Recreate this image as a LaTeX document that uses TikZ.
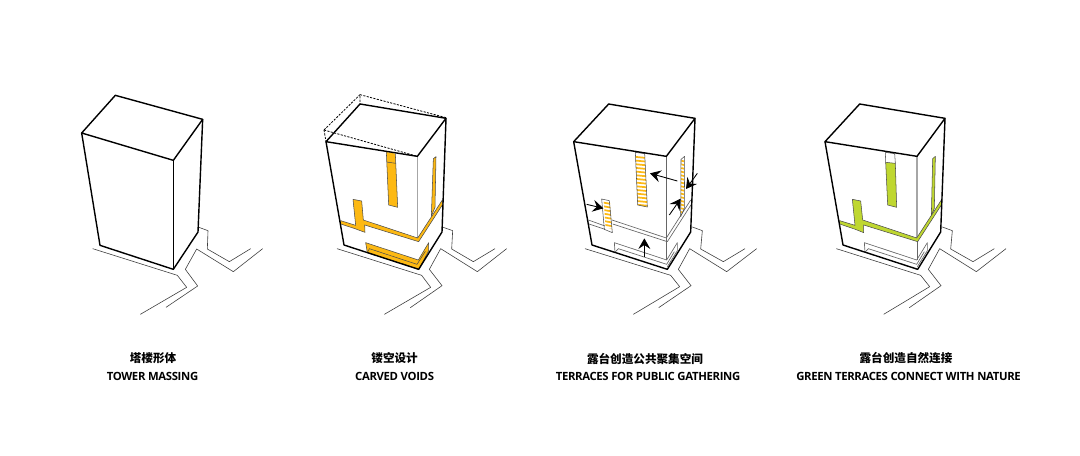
\documentclass[tikz,border=0pt]{standalone}
\usepackage{fontspec}
\setmainfont{Open Sans}[LetterSpace=-3]
\newfontfamily\cjkfont{Noto Sans CJK SC}
\usetikzlibrary{arrows.meta}
\definecolor{voidorange}{HTML}{FDB913}
\definecolor{terracegreen}{HTML}{BFD730}
\tikzset{
  panel/.style={x=.25pt,y=-.25pt,line join=round},
  mass/.style={draw=black,line width=1.05pt},
  ground/.style={draw=black!75,line width=.45pt},
  slot/.style={draw=black!70,line width=.4pt},
  innerline/.style={draw=black!60,line width=.5pt},
  corner/.style={draw=black!35,line width=1pt},
  phantom/.style={draw=black,line width=.6pt,dash pattern=on 1.6pt off 1pt},
  flow/.style={draw=black,line width=.65pt,-{Stealth[length=8pt,width=9pt,inset=3pt]}},
  hatch/.style={draw=voidorange,line width=1.3pt},
  zh/.style={font=\cjkfont\bfseries\fontsize{8.7}{10}\selectfont,inner sep=0pt,anchor=center},
  en/.style={font=\bfseries\fontsize{8.5}{10}\selectfont,inner sep=0pt,anchor=center},
}
\begin{document}
\begin{tikzpicture}[x=.75pt,y=-.75pt]
\useasboundingbox (0,0) rectangle (1080,456);
% ---------- panel 1
\begin{scope}[shift={(60,80)},panel]
\draw[ground] (98,506)--(352,586)--(380,622)--(241,703);
\draw[ground] (318,682)--(413,618)--(376,568)--(410,507)--(520,575)--(608,506);
\draw[ground] (414,441)--(444,452)--(442,507)--(508,545)--(572,506);
\draw[mass] (166,46)--(428,118)--(340,241)--(65,159)--cycle;
\draw[mass] (65,159)--(120,496)--(340,568)--(414,456)--(428,118);
\draw[mass] (340,241)--(340,568);
\end{scope}
% ---------- panel 2
\begin{scope}[shift={(310,80)},panel]
\draw[ground] (81,506)--(335,586)--(362,622)--(223,703);
\draw[ground] (301,683)--(396,617)--(358,568)--(392,506)--(502,575)--(590,506);
\draw[ground] (397,441)--(428,452)--(425,507)--(490,545)--(555,506);
\draw[corner] (322,229)--(322,476);
\fill[voidorange] (229,216)--(256,221)--(263,382)--(236,375)--cycle;
\draw[slot] (229,216)--(236,375)--(263,382)--(256,221);
\draw[slot] (230,246)--(257,250);
\filldraw[fill=voidorange,slot] (370,236)--(378,230)--(375,382)--(364,408)--cycle;
\filldraw[fill=voidorange,slot] (92,422)--(137,436)--(129,358)--(155,363)--(160,420)--(323,474)--(397,360)--(397,375)--(326,485)--(164,435)--(165,457)--(140,448)--(138,447)--(92,432)--cycle;
\filldraw[fill=voidorange,slot] (167,488)--(325,540)--(356,488)--(356,512)--(327,568)--(172,518)--cycle;
\draw[slot] (172,518)--(178,506)--(321,553)--(346,514);
\draw[phantom] (150,44)--(408,113);
\draw[phantom] (42,150)--(150,44)--(150,72);
\draw[phantom] (42,150)--(322,229);
\draw[phantom] (42,150)--(48,185);
\draw[mass] (150,72)--(408,115)--(322,229)--(48,185)--cycle;
\draw[mass] (48,185)--(102,495)--(326,568)--(396,456)--(408,115);
\end{scope}
% ---------- panel 3
\begin{scope}[shift={(560,80)},panel]
\draw[ground] (75,506)--(332,586)--(359,620)--(220,703);
\draw[ground] (296,683)--(393,617)--(355,568)--(389,506)--(500,575)--(590,506);
\draw[ground] (397,441)--(427,452)--(422,507)--(490,545)--(555,506);
\draw[innerline] (319,229)--(319,540);
% terrace edges
\draw[innerline] (85,420)--(135,438);
\draw[innerline] (87,432)--(135,448);
\draw[innerline] (156,420)--(319,474)--(392,360);
\draw[innerline] (158,432)--(322,485)--(394,373);
% lower void
\draw[innerline] (165,517)--(163,488)--(320,540)--(352,488)--(352,512)--(322,560);
\draw[innerline] (165,517)--(175,506)--(320,553)--(343,515);
% hatched slots
\begin{scope}
\clip (226,217)--(254,221)--(262,381)--(233,375)--cycle;
\foreach \yy in {230,241,...,373} \draw[hatch] (220,\yy)--(270,\yy+5);
\end{scope}
\draw[slot] (226,217)--(233,375)--(262,381)--(254,221)--cycle;
\begin{scope}
\clip (131,364)--(150,367)--(156,448)--(137,442)--cycle;
\foreach \yy in {366,377,...,450} \draw[hatch] (120,\yy)--(165,\yy+8);
\end{scope}
\draw[slot] (125,357)--(148,362)--(157,458)--(133,448)--cycle;
\begin{scope}
\clip (364,240)--(372,232)--(372,385)--(362,408)--cycle;
\foreach \yy in {240,251,...,410} \draw[hatch] (355,\yy)--(380,\yy+6);
\end{scope}
\draw[slot] (363,238)--(374,229)--(373,385)--(362,410)--cycle;
\coordinate (a1s) at (80,373);   \coordinate (a1e) at (130,385);
\coordinate (a2s) at (352,303);  \coordinate (a2e) at (270,280);
\coordinate (a3s) at (328,405);  \coordinate (a3e) at (362,356);
\coordinate (a4s) at (412,280);  \coordinate (a4e) at (378,327);
\coordinate (a5s) at (253,530);  \coordinate (a5e) at (253,475);
\draw[flow] (a1s)--(a1e);
\draw[flow] (a2s)--(a2e);
\draw[flow] (a3s)--(a3e);
\draw[flow] (a4s)--(a4e);
\draw[flow] (a5s)--(a5e);
\draw[mass] (146,72)--(405,115)--(319,229)--(41,185)--cycle;
\draw[mass] (41,185)--(96,495)--(322,568)--(392,456)--(405,115);
\end{scope}
% ---------- panel 4
\begin{scope}[shift={(810,80)},panel]
\draw[ground] (79,506)--(332,586)--(359,620)--(221,703);
\draw[ground] (298,683)--(393,617)--(355,568)--(389,506)--(499,575)--(588,506);
\draw[ground] (397,441)--(427,452)--(422,507)--(489,545)--(553,506);
\draw[corner] (321,229)--(321,476);
\draw[innerline] (321,476)--(321,540);
\draw[slot] (226,217)--(227,247);
\draw[slot] (254,221)--(256,250);
\draw[slot] (226,217)--(254,221);
\filldraw[fill=terracegreen,slot] (227,247)--(256,250)--(260,382)--(233,375)--cycle;
\filldraw[fill=terracegreen,slot] (368,236)--(376,229)--(373,385)--(364,405)--cycle;
\filldraw[fill=terracegreen,slot] (89,422)--(135,436)--(127,358)--(152,363)--(158,420)--(320,474)--(394,360)--(394,375)--(323,485)--(161,435)--(161,458)--(136,448)--(89,432)--cycle;
\draw[innerline] (165,517)--(163,488)--(320,540)--(352,488)--(352,512)--(322,560);
\draw[innerline] (165,517)--(175,506)--(320,553)--(343,515);
\draw[mass] (149,72)--(405,115)--(321,229)--(45,185)--cycle;
\draw[mass] (45,185)--(99,495)--(323,568)--(392,456)--(405,115);
\end{scope}
% ---------- labels
\node[zh] (z1) at (153,358.5) {塔楼形体};
\node[en] (e1) at (152.5,376) {TOWER MASSING};
\node[zh] (z2) at (394.6,358.5) {镂空设计};
\node[en] (e2) at (394.6,376) {CARVED VOIDS};
\node[zh] (z3) at (645,358.5) {露台创造公共聚集空间};
\node[en] (e3) at (648,376) {TERRACES FOR PUBLIC GATHERING};
\node[zh] (z4) at (906,358.5) {露台创造自然连接};
\node[en] (e4) at (908.5,376) {GREEN TERRACES CONNECT WITH NATURE};
\end{tikzpicture}
\end{document}
